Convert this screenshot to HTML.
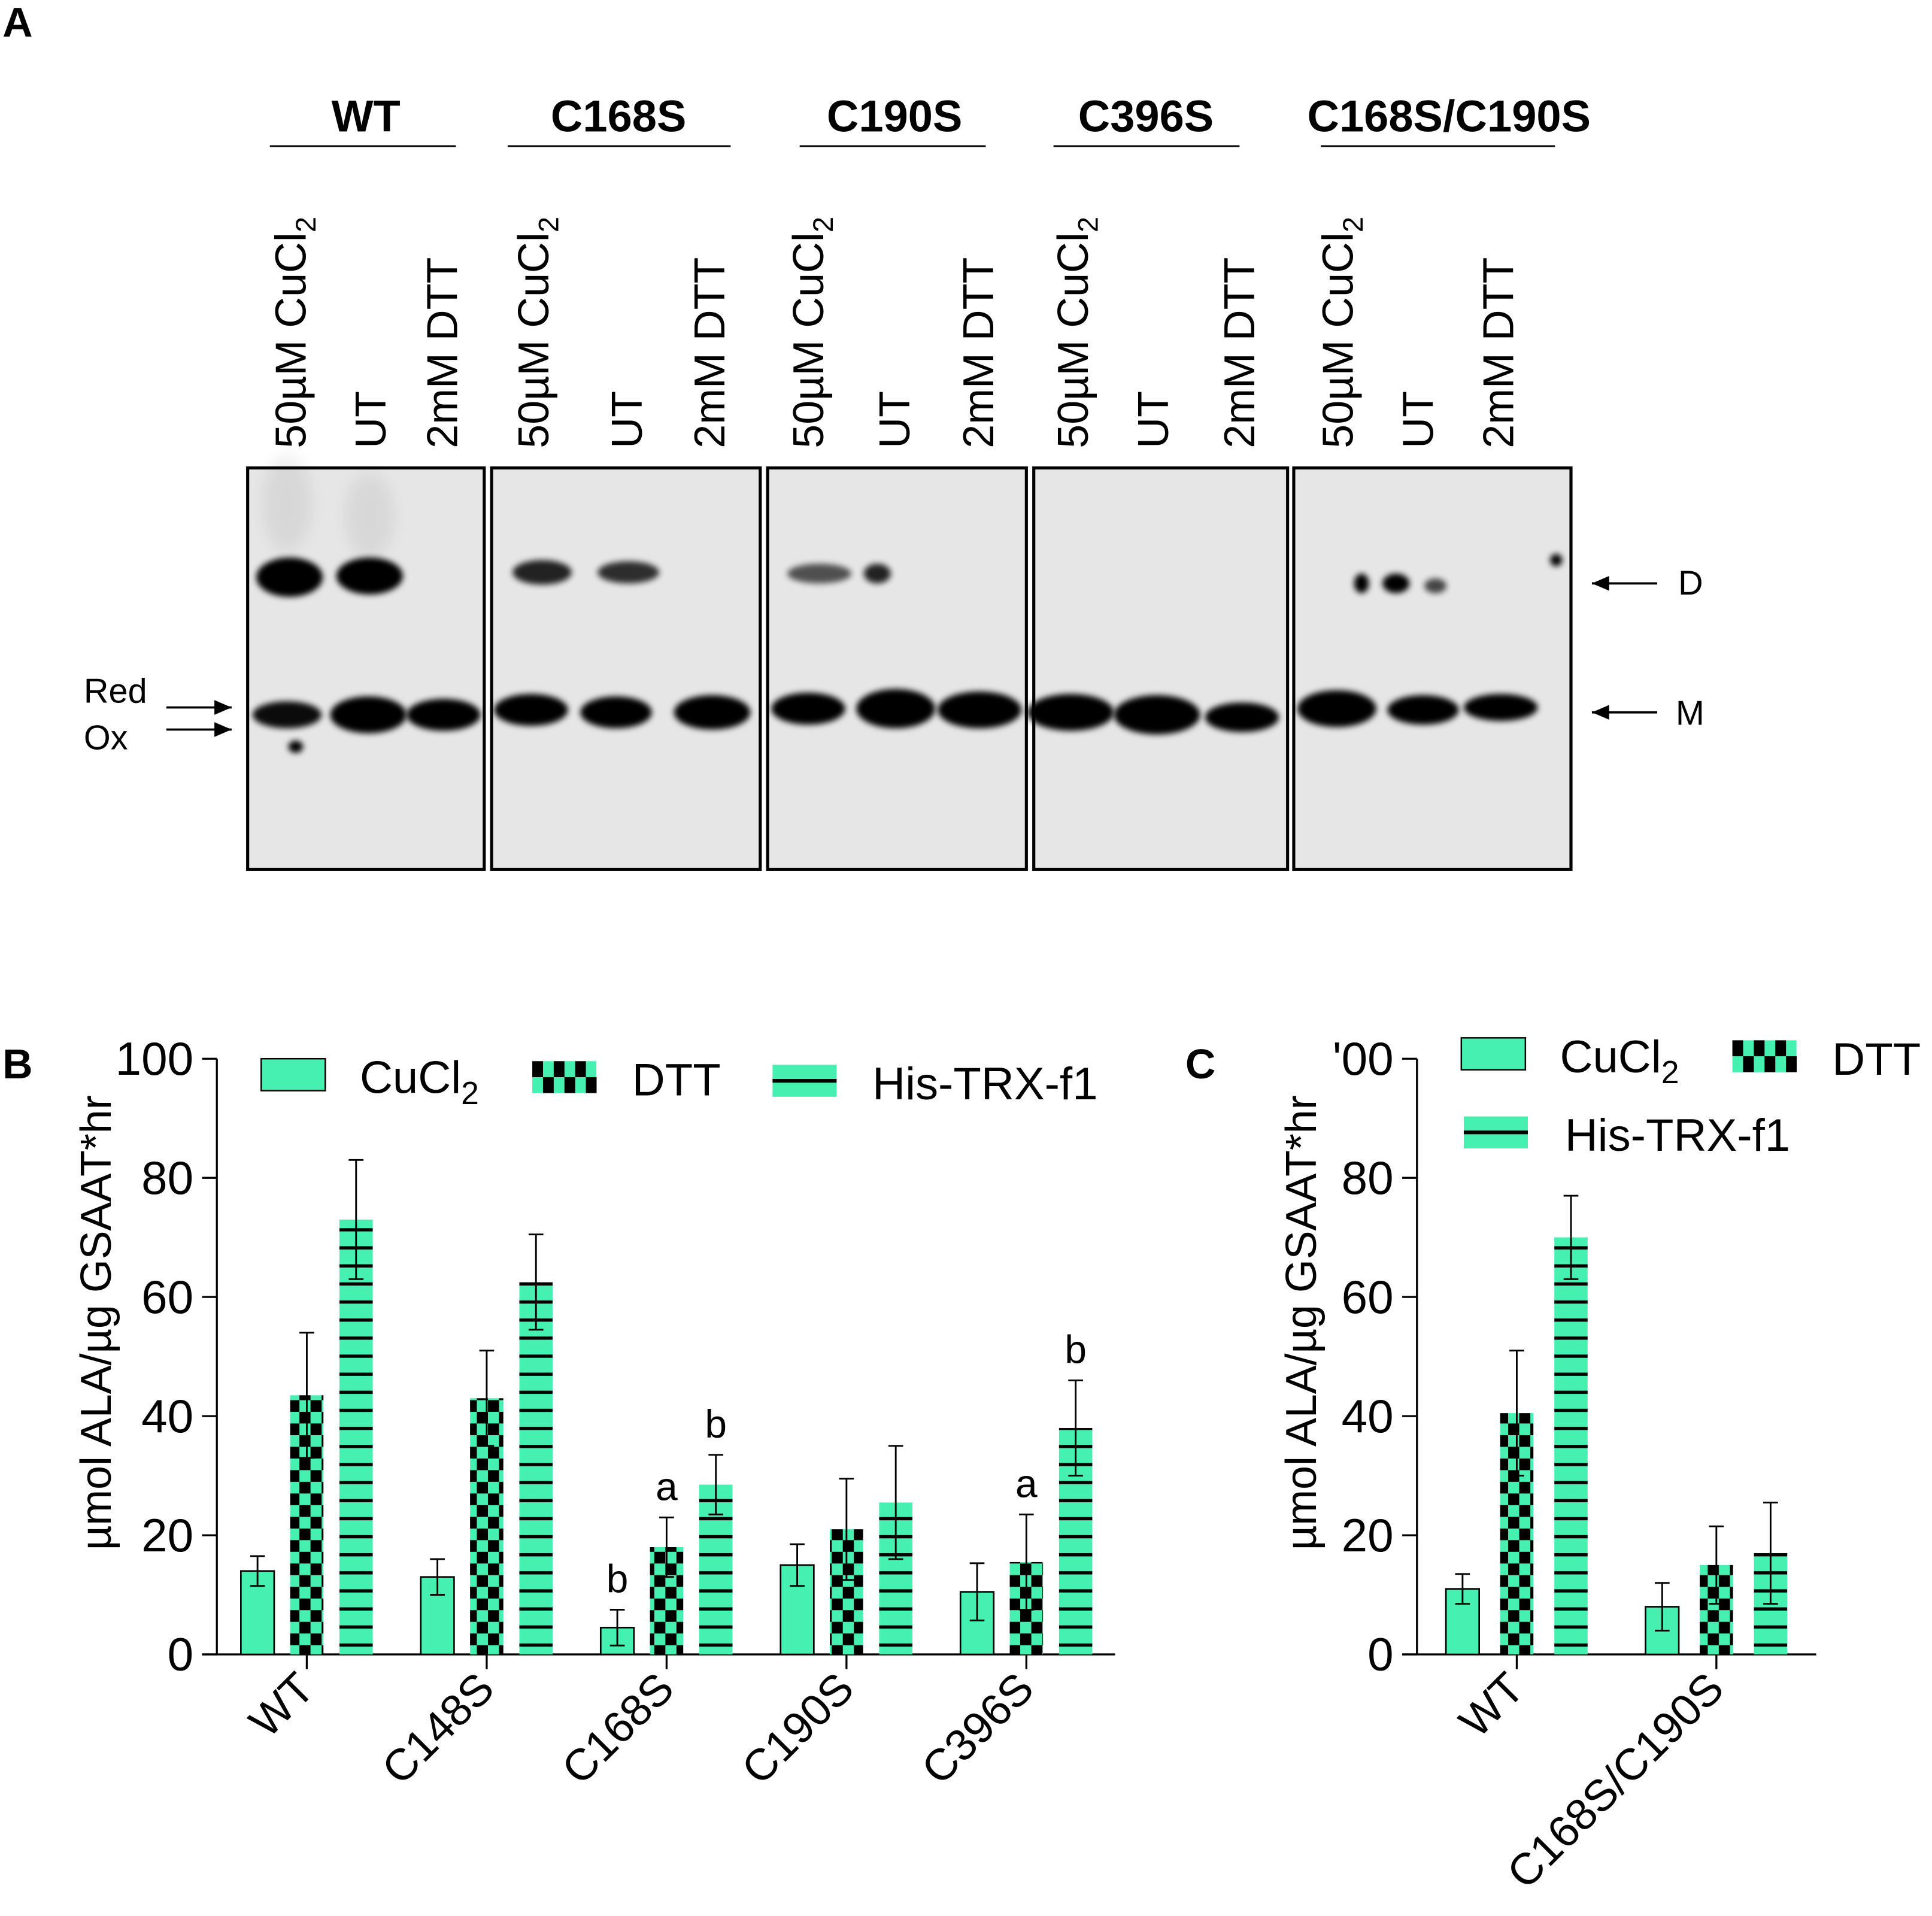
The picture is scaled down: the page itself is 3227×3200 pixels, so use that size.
<!DOCTYPE html>
<html><head><meta charset="utf-8"><style>
html,body{margin:0;padding:0;background:#fff}
svg{display:block}
text{font-family:"Liberation Sans",sans-serif;fill:#000}
</style></head><body>
<svg id="fig" width="3227" height="3200" viewBox="0 0 1568 1560" preserveAspectRatio="none" xmlns="http://www.w3.org/2000/svg">
<defs>
<filter id="blur" x="-50%" y="-50%" width="200%" height="200%"><feGaussianBlur stdDeviation="2.5"/></filter>
<filter id="blur2" x="-50%" y="-50%" width="200%" height="200%"><feGaussianBlur stdDeviation="6"/></filter>
<pattern id="checker" width="18" height="19" patternUnits="userSpaceOnUse">
<rect width="18" height="19" fill="#45f0b0"/><rect width="9" height="9.5" fill="#000"/><rect x="9" y="9.5" width="9" height="9.5" fill="#000"/>
</pattern>
<pattern id="stripes" width="20" height="14.7" patternUnits="userSpaceOnUse" y="1347">
<rect width="20" height="14.7" fill="#45f0b0"/><rect y="5.8" width="20" height="2.6" fill="#000"/>
</pattern>
</defs>
<g id="panelA">
<text x="2" y="30" font-size="34" font-weight="bold">A</text>
</g>
<g id="chartB"></g>
<g id="chartC"></g>
</svg>
<script>
// ---------- Chart data ----------
const bCategories = ["WT","C148S","C168S","C190S","C396S"];
const bCucl2 = [14,13,4.5,15,10.5];
const bCucl2Err = [2.5,3,3,3.5,4.8];
const bDtt = [43.5,43,18,21,15.5];
const bDttErr = [10.5,8,5,8.5,8];
const bHis = [73,62.5,28.5,25.5,38];
const bHisErr = [10,8,5,9.5,8];
const bLettersCu = ["","","b","",""];
const bLettersDtt = ["","","a","","a"];
const bLettersHis = ["","","b","","b"];
const cCategories = ["WT","C168S/C190S"];
const cCucl2 = [11,8];
const cCucl2Err = [2.5,4];
const cDtt = [40.5,15];
const cDttErr = [10.5,6.5];
const cHis = [70,17];
const cHisErr = [7,8.5];
const yTicks = [0,20,40,60,80,100];

const NS="http://www.w3.org/2000/svg";
function mk(tag,attrs,parent,txt){const e=document.createElementNS(NS,tag);for(const k in attrs)e.setAttribute(k,attrs[k]);if(txt!==undefined)e.textContent=txt;parent.appendChild(e);return e;}

// ---------- Blot (panel A) ----------
const A=document.getElementById('panelA');
const panels=[[201,393],[399,617],[623,833],[839,1045],[1050,1275]];
const groups=["WT","C168S","C190S","C396S","C168S/C190S"];
const headerX=[297,502,726,930,1176];
const lineX=[[219,370],[412,593],[649,800],[855,1006],[1072,1262]];
const lanes=[[235,300,358],[432,508,575],[655,725,793],[870,935,1005],[1085,1150,1215]];
panels.forEach((p,i)=>{
  const r=mk('rect',{x:p[0],y:381,width:p[1]-p[0],height:327,fill:'#e6e6e6',stroke:'#000','stroke-width':2.5},A);
  
  
  const t=mk('text',{x:headerX[i],y:107,'font-size':36,'font-weight':'bold','text-anchor':'middle'},A,groups[i]);
  
  
  const l=mk('line',{x1:lineX[i][0],x2:lineX[i][1],y1:119,y2:119,stroke:'#000','stroke-width':1.5},A);
  
  
  const labs=[["50µM CuCl","2"],["UT",""],["2mM DTT",""]];
  lanes[i].forEach((lx,j)=>{
    const g=mk('text',{transform:`translate(${lx+13},365) rotate(-90)`,'font-size':35},A);
    
    
    mk('tspan',{},g,labs[j][0]);
    if(labs[j][1]) mk('tspan',{'font-size':23,dy:8},g,labs[j][1]);
  });
});
// bands: [cx,cy,rx,ry,opacity]
const bands=[[235,470,27,16,1],[300,469,27,15,1],[233,582,28,11,0.95],[240,608,6,5,1],[299,582,31,15,1],[360,582,30,13,1],
[440,466,24,10,0.85],[510,466,25,9,0.8],[431,578,30,13,1],[500,580,29,13,1],[578,580,31,14,1],
[665,467,26,8,0.65],[712,467,11,8,0.85],[656,577,30,13,1],[727,577,32,16,1],[795,578,34,15,1],
[869,580,35,15,1],[939,582,35,16,1],[1008,584,30,12,1],
[1105,475,6,8,1],[1133,475,11,8,1],[1165,477,9,6,0.7],[1263,456,5,5,1],[1085,577,32,15,1],[1155,578,29,12,1],[1218,576,30,11,1]];
bands.forEach(b=>{
  const e=mk('ellipse',{cx:b[0],cy:b[1],rx:b[2],ry:b[3],fill:'#000',opacity:b[4],filter:'url(#blur)'},A);
  
  
});
[[233,410,20,40,0.06],[300,420,20,35,0.06]].forEach(b=>{
  const e=mk('ellipse',{cx:b[0],cy:b[1],rx:b[2],ry:b[3],fill:'#000',opacity:b[4],filter:'url(#blur2)'},A);
  
  
});
function arrow(x1,x2,y,name){const g=mk('g',{},A);
  mk('line',{x1:x1,x2:x2,y1:y,y2:y,stroke:'#000','stroke-width':1.8},g);
  const d=x2>x1?`M${x2},${y} l-14,-6 l0,12 z`:`M${x2},${y} l14,-6 l0,12 z`;mk('path',{d:d,fill:'#000'},g);}
arrow(1345,1292,475,'arrow-dimer');arrow(1345,1292,580,'arrow-monomer');
arrow(135,188,576,'arrow-red');arrow(135,188,594,'arrow-ox');
[["D",1362,484,'label-dimer'],["M",1360,590,'label-monomer'],["Red",68,572,'label-red'],["Ox",68,610,'label-ox']].forEach(s=>{
  const t=mk('text',{x:s[1],y:s[2],'font-size':28},A,s[0]);});

// ---------- Bar charts ----------
function chart(gid,opts){
  const G=document.getElementById(gid);
  const y0=1347,y100=862;const ys=v=>y0-(v/100)*(y0-y100);
  const ax=opts.axisX;
  const yl=mk('line',{x1:ax,x2:ax,y1:y100,y2:y0,stroke:'#000','stroke-width':1.6},G);
  
  const xl=mk('line',{x1:ax-12,x2:opts.axisEnd,y1:y0,y2:y0,stroke:'#000','stroke-width':1.6},G);
  
  yTicks.forEach(v=>{
    const tl=mk('line',{x1:ax-12,x2:ax,y1:ys(v),y2:ys(v),stroke:'#000','stroke-width':1.6},G);
    
    const tt=mk('text',{x:ax-19,y:ys(v)+13,'font-size':38,'text-anchor':'end'},G,(opts.cut100&&v===100)?"'00":String(v));
    
  });
  const yt=mk('text',{transform:`translate(${opts.titleX},1077) rotate(-90)`,'font-size':35,'text-anchor':'middle'},G,'µmol ALA/µg GSAAT*hr');
  
  const series=[[opts.cu,opts.cuE,'#45f0b0',true,opts.lc||[]],[opts.dtt,opts.dttE,'url(#checker)',false,opts.ld||[]],[opts.his,opts.hisE,'url(#stripes)',false,opts.lh||[]]];
  const bw=27;
  opts.cats.forEach((c,i)=>{
    const center=opts.first+i*opts.gap;
    series.forEach((s,j)=>{
      const bx=center+(j-1)*opts.off;const v=s[0][i];const e=s[1][i];
      const r=mk('rect',{x:bx-bw/2,y:ys(v),width:bw,height:y0-ys(v),fill:s[2]},G);
      if(s[3]){r.setAttribute('stroke','#000');r.setAttribute('stroke-width','1.3');}
      
      
      const eg=mk('g',{stroke:'#000','stroke-width':1.4},G);
      
      mk('line',{x1:bx,x2:bx,y1:ys(v-e),y2:ys(v+e)},eg);
      mk('line',{x1:bx-6,x2:bx+6,y1:ys(v+e),y2:ys(v+e)},eg);
      mk('line',{x1:bx-6,x2:bx+6,y1:ys(v-e),y2:ys(v-e)},eg);
      if(s[4][i]){const lt=mk('text',{x:bx,y:ys(v+e)-14,'font-size':32,'text-anchor':'middle'},G,s[4][i]);
        }
    });
    const xt=mk('line',{x1:center,x2:center,y1:y0,y2:y0+12,stroke:'#000','stroke-width':1.6},G);
    
    const xlab=mk('text',{transform:`translate(${center+8},${y0+30}) rotate(-45)`,'font-size':36,'text-anchor':'end'},G,c);
    
  });
  const pl=mk('text',{x:opts.plX,y:878,'font-size':34,'font-weight':'bold'},G,opts.panel);
  
  opts.legend.forEach(L=>{
    const lg=mk('g',{},G);
    mk('rect',{x:L.x,y:L.y-13,width:52,height:26,fill:'#45f0b0',stroke:L.key==='cucl2'?'#000':'none','stroke-width':1.2},lg);
    if(L.key==='dtt'){for(let k=0;k<6;k++){for(let r=0;r<2;r++){if((k+r)%2==0)mk('rect',{x:L.x+k*8.7,y:L.y-13+r*13,width:8.7,height:13,fill:'#000'},lg);}}}
    if(L.key==='his'){mk('rect',{x:L.x,y:L.y-1.5,width:52,height:3,fill:'#000'},lg);}
    const t=mk('text',{x:L.tx,y:L.y+15,'font-size':37},lg,L.label);
    if(L.sub){mk('tspan',{'font-size':26,dy:9},t,L.sub);}
  });
}
chart('chartB',{axisX:176,axisEnd:905,first:249,gap:146,off:40,cats:bCategories,cu:bCucl2,cuE:bCucl2Err,dtt:bDtt,dttE:bDttErr,his:bHis,hisE:bHisErr,lc:bLettersCu,ld:bLettersDtt,lh:bLettersHis,titleX:90,plX:2,panel:'B',
 legend:[{key:'cucl2',x:212,y:875,tx:292,label:'CuCl',sub:'2'},{key:'dtt',x:432,y:877,tx:513,label:'DTT'},{key:'his',x:627,y:880,tx:708,label:'His-TRX-f1'}]});
chart('chartC',{axisX:1150,axisEnd:1474,first:1231,gap:162,off:44,cats:cCategories,cu:cCucl2,cuE:cCucl2Err,dtt:cDtt,dttE:cDttErr,his:cHis,hisE:cHisErr,titleX:1068,plX:962,panel:'C',cut100:true,
 legend:[{key:'cucl2',x:1186,y:858,tx:1266,label:'CuCl',sub:'2'},{key:'dtt',x:1406,y:860,tx:1487,label:'DTT'},{key:'his',x:1188,y:922,tx:1270,label:'His-TRX-f1'}]});
</script>
</body></html>
